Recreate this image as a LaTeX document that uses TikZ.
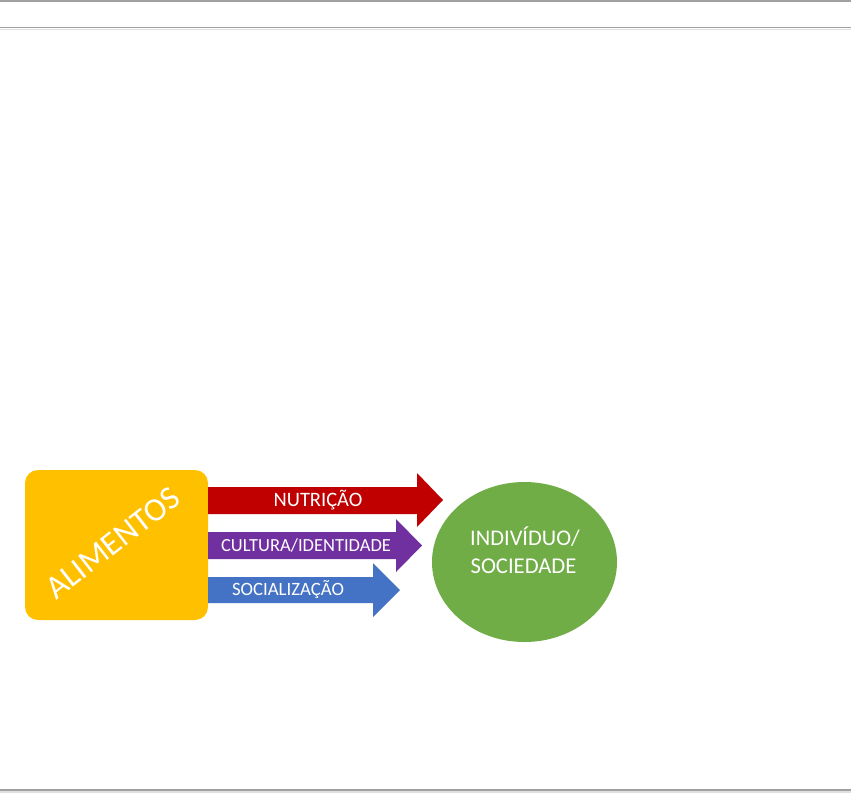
\documentclass[tikz,border=0pt]{standalone}
\usepackage{fontspec}
\setmainfont{Carlito}
\usetikzlibrary{shapes.geometric}
\definecolor{cyellow}{HTML}{FFC000}
\definecolor{cred}{HTML}{C00000}
\definecolor{cpurple}{HTML}{7030A0}
\definecolor{cblue}{HTML}{4472C4}
\definecolor{cgreen}{HTML}{70AD47}
\definecolor{rulegray}{HTML}{A0A0A0}
\definecolor{rulelight}{HTML}{E0E0E0}
\tikzset{
  lbl/.style={text=white, inner sep=0pt, font=\fontsize{#1}{#1}\selectfont},
  blockarrow/.style={fill=#1, draw=none}
}
\begin{document}
\begin{tikzpicture}[x=1pt,y=-1pt]
\useasboundingbox (0,0) rectangle (851,793);
\fill[white] (0,0) rectangle (851,793);
% rules
\draw[rulegray, line width=1.5pt] (0,0.8) -- (851,0.8);
\draw[rulegray, line width=1.5pt] (0,27.6) -- (851,27.6);
\draw[rulelight, line width=1.2pt] (0,29.4) -- (851,29.4);
\draw[rulegray, line width=2pt] (0,790) -- (851,790);
\draw[rulelight, line width=1.5pt] (0,792.2) -- (851,792.2);
% box
\node[fill=cyellow, rounded corners=13pt, minimum width=183pt, minimum height=150pt, inner sep=0pt] (alim) at (116.5,545) {};
\node[lbl=33, rotate=38] (alimtxt) at (113,543) {ALIMENTOS};
% arrows
\fill[blockarrow=cred] (208,487)--(417,487)--(417,473)--(443,500)--(417,527)--(417,514)--(208,514)--cycle;
\fill[blockarrow=cpurple] (208,532)--(396,532)--(396,519)--(422,545.5)--(396,572)--(396,559)--(208,559)--cycle;
\fill[blockarrow=cblue] (208,577)--(373,577)--(373,563)--(400,590)--(373,617)--(373,603)--(208,603)--cycle;
\node[lbl=20.5] (nut) at (318,500) {NUTRIÇÃO};
\node[lbl=18.5] (cul) at (306,545.5) {CULTURA/IDENTIDADE};
\node[lbl=18.8] (soc) at (288,590) {SOCIALIZAÇÃO};
% circle
\node[ellipse, fill=cgreen, minimum width=185pt, minimum height=160pt, inner sep=0pt] (ind) at (524.5,562) {};
\node[lbl=22.4] (indtxt) at (525,537) {INDIVÍDUO/};
\node[lbl=22.6] (soctxt) at (523.5,566) {SOCIEDADE};
\end{tikzpicture}
\end{document}
